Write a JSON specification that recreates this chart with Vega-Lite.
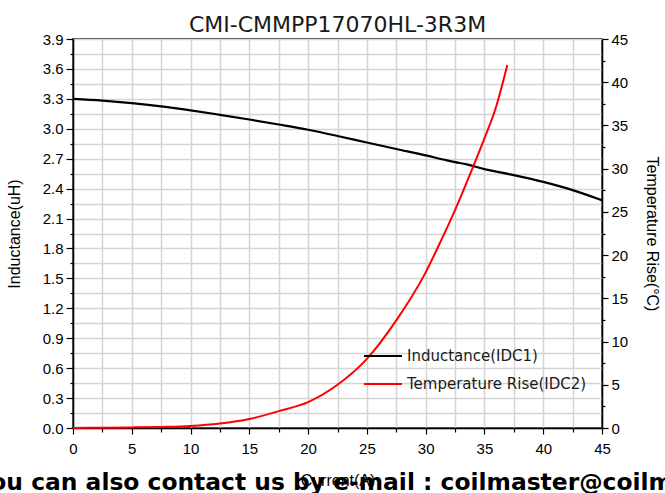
{
  "$schema": "https://vega.github.io/schema/vega-lite/v6.json",
  "width": 529,
  "height": 389,
  "autosize": {"type": "none"},
  "padding": {"left": 73, "top": 39, "right": 63, "bottom": 65},
  "background": "white",
  "title": {
    "text": "CMI-CMMPP17070HL-3R3M",
    "font": "DejaVu Sans",
    "fontSize": 22,
    "fontWeight": "normal",
    "color": "#1a1a1a",
    "anchor": "middle",
    "frame": "group",
    "baseline": "alphabetic",
    "offset": 2,
    "dy": 24
  },
  "config": {
    "view": {"stroke": "black", "strokeWidth": 1.5},
    "axis": {
      "domainColor": "black",
      "domainWidth": 1.5,
      "tickColor": "black",
      "tickWidth": 1.2,
      "gridColor": "#d4d4d4",
      "gridWidth": 1.5,
      "labelFont": "Liberation Sans",
      "labelFontSize": 15,
      "labelColor": "black",
      "labelFlush": false,
      "labelOverlap": false,
      "titleFont": "Liberation Sans",
      "titleFontSize": 16,
      "titleFontWeight": "normal",
      "titleColor": "black"
    }
  },
  "datasets": {
    "inductance": [
      {"current": 0, "inductance": 3.30},
      {"current": 2.5, "inductance": 3.283},
      {"current": 5, "inductance": 3.258},
      {"current": 7.5, "inductance": 3.225},
      {"current": 10, "inductance": 3.185},
      {"current": 12.5, "inductance": 3.14},
      {"current": 15, "inductance": 3.093},
      {"current": 17.5, "inductance": 3.043},
      {"current": 20, "inductance": 2.99},
      {"current": 22.5, "inductance": 2.928},
      {"current": 25, "inductance": 2.862},
      {"current": 27.5, "inductance": 2.797},
      {"current": 30, "inductance": 2.733},
      {"current": 31.8, "inductance": 2.683},
      {"current": 32.5, "inductance": 2.666},
      {"current": 33.5, "inductance": 2.643},
      {"current": 35, "inductance": 2.596},
      {"current": 37.5, "inductance": 2.535},
      {"current": 40, "inductance": 2.467},
      {"current": 42.5, "inductance": 2.385},
      {"current": 45, "inductance": 2.283}
    ],
    "temperature": [
      {"current": 0, "rise": 0},
      {"current": 2.5, "rise": 0.03},
      {"current": 5, "rise": 0.07},
      {"current": 7.5, "rise": 0.13},
      {"current": 10, "rise": 0.24},
      {"current": 12.5, "rise": 0.52},
      {"current": 15, "rise": 1.04},
      {"current": 17.5, "rise": 1.95},
      {"current": 20, "rise": 3.0},
      {"current": 22.5, "rise": 5.0},
      {"current": 25, "rise": 8.0},
      {"current": 27.5, "rise": 12.45},
      {"current": 30, "rise": 18.0},
      {"current": 31, "rise": 20.8},
      {"current": 32, "rise": 23.7},
      {"current": 33, "rise": 26.8},
      {"current": 34, "rise": 30.1},
      {"current": 35, "rise": 33.5},
      {"current": 36, "rise": 37.2},
      {"current": 36.95, "rise": 42.0}
    ]
  },
  "layer": [
    {
      "data": {"name": "inductance"},
      "mark": {"type": "line", "strokeWidth": 2.2, "interpolate": "monotone"},
      "encoding": {
        "x": {
          "field": "current",
          "type": "quantitative",
          "scale": {"domain": [0, 45], "nice": false, "zero": false},
          "axis": {
            "orient": "bottom",
            "title": "Current(A)",
            "titleFontSize": 16,
            "titleBaseline": "alphabetic",
            "titleY": 57,
            "values": [0, 2.5, 5, 7.5, 10, 12.5, 15, 17.5, 20, 22.5, 25, 27.5, 30, 32.5, 35, 37.5, 40, 42.5, 45],
            "labelExpr": "datum.value % 5 == 0 ? format(datum.value, 'd') : ''",
            "tickSize": {"condition": {"test": "datum.value % 5 == 0", "value": 6}, "value": 4},
            "labelPadding": 7,
            "grid": true
          }
        },
        "y": {
          "field": "inductance",
          "type": "quantitative",
          "scale": {"domain": [0, 3.9], "nice": false, "zero": false},
          "axis": {
            "orient": "left",
            "title": "Inductance(uH)",
            "titlePadding": 20,
            "values": [0, 0.15, 0.3, 0.45, 0.6, 0.75, 0.9, 1.05, 1.2, 1.35, 1.5, 1.65, 1.8, 1.95, 2.1, 2.25, 2.4, 2.55, 2.7, 2.85, 3.0, 3.15, 3.3, 3.45, 3.6, 3.75, 3.9],
            "labelExpr": "round(datum.value * 100) % 30 == 0 ? format(datum.value, '.1f') : ''",
            "tickSize": {"condition": {"test": "round(datum.value * 100) % 30 == 0", "value": 7}, "value": 3},
            "labelPadding": 3,
            "grid": true
          }
        },
        "color": {
          "datum": "Inductance(IDC1)",
          "type": "nominal",
          "scale": {"domain": ["Inductance(IDC1)", "Temperature Rise(IDC2)"], "range": ["black", "red"]},
          "legend": {
            "orient": "none",
            "legendX": 290,
            "legendY": 297,
            "title": null,
            "symbolType": "stroke",
            "symbolSize": 1444,
            "symbolStrokeWidth": 2,
            "labelFont": "DejaVu Sans",
            "labelFontSize": 15,
            "labelColor": "#1a1a1a",
            "labelLimit": 400,
            "labelOffset": 4,
            "rowPadding": -8,
            "padding": 0
          }
        }
      }
    },
    {
      "data": {"name": "temperature"},
      "mark": {"type": "line", "strokeWidth": 2, "interpolate": "monotone"},
      "encoding": {
        "x": {
          "field": "current",
          "type": "quantitative",
          "axis": {
            "orient": "bottom",
            "domain": false,
            "ticks": false,
            "labels": false,
            "grid": false,
            "title": "You can also contact us by e-mail : coilmaster@coilmaster.com",
            "titleFont": "DejaVu Sans",
            "titleFontSize": 23.4,
            "titleFontWeight": "bold",
            "titleColor": "black",
            "titleAlign": "left",
            "titleAnchor": "start",
            "titleBaseline": "alphabetic",
            "titleX": -98,
            "titleY": 61
          }
        },
        "y": {
          "field": "rise",
          "type": "quantitative",
          "scale": {"domain": [0, 45], "nice": false, "zero": false},
          "axis": {
            "orient": "right",
            "title": "Temperature Rise(°C)",
            "titlePadding": 16,
            "values": [0, 2.5, 5, 7.5, 10, 12.5, 15, 17.5, 20, 22.5, 25, 27.5, 30, 32.5, 35, 37.5, 40, 42.5, 45],
            "labelExpr": "datum.value % 5 == 0 ? format(datum.value, 'd') : ''",
            "tickSize": {"condition": {"test": "datum.value % 5 == 0", "value": 6}, "value": 3},
            "labelPadding": 3,
            "grid": false
          }
        },
        "color": {"datum": "Temperature Rise(IDC2)", "type": "nominal"}
      }
    }
  ],
  "resolve": {"scale": {"y": "independent"}, "axis": {"x": "independent", "y": "independent"}}
}
